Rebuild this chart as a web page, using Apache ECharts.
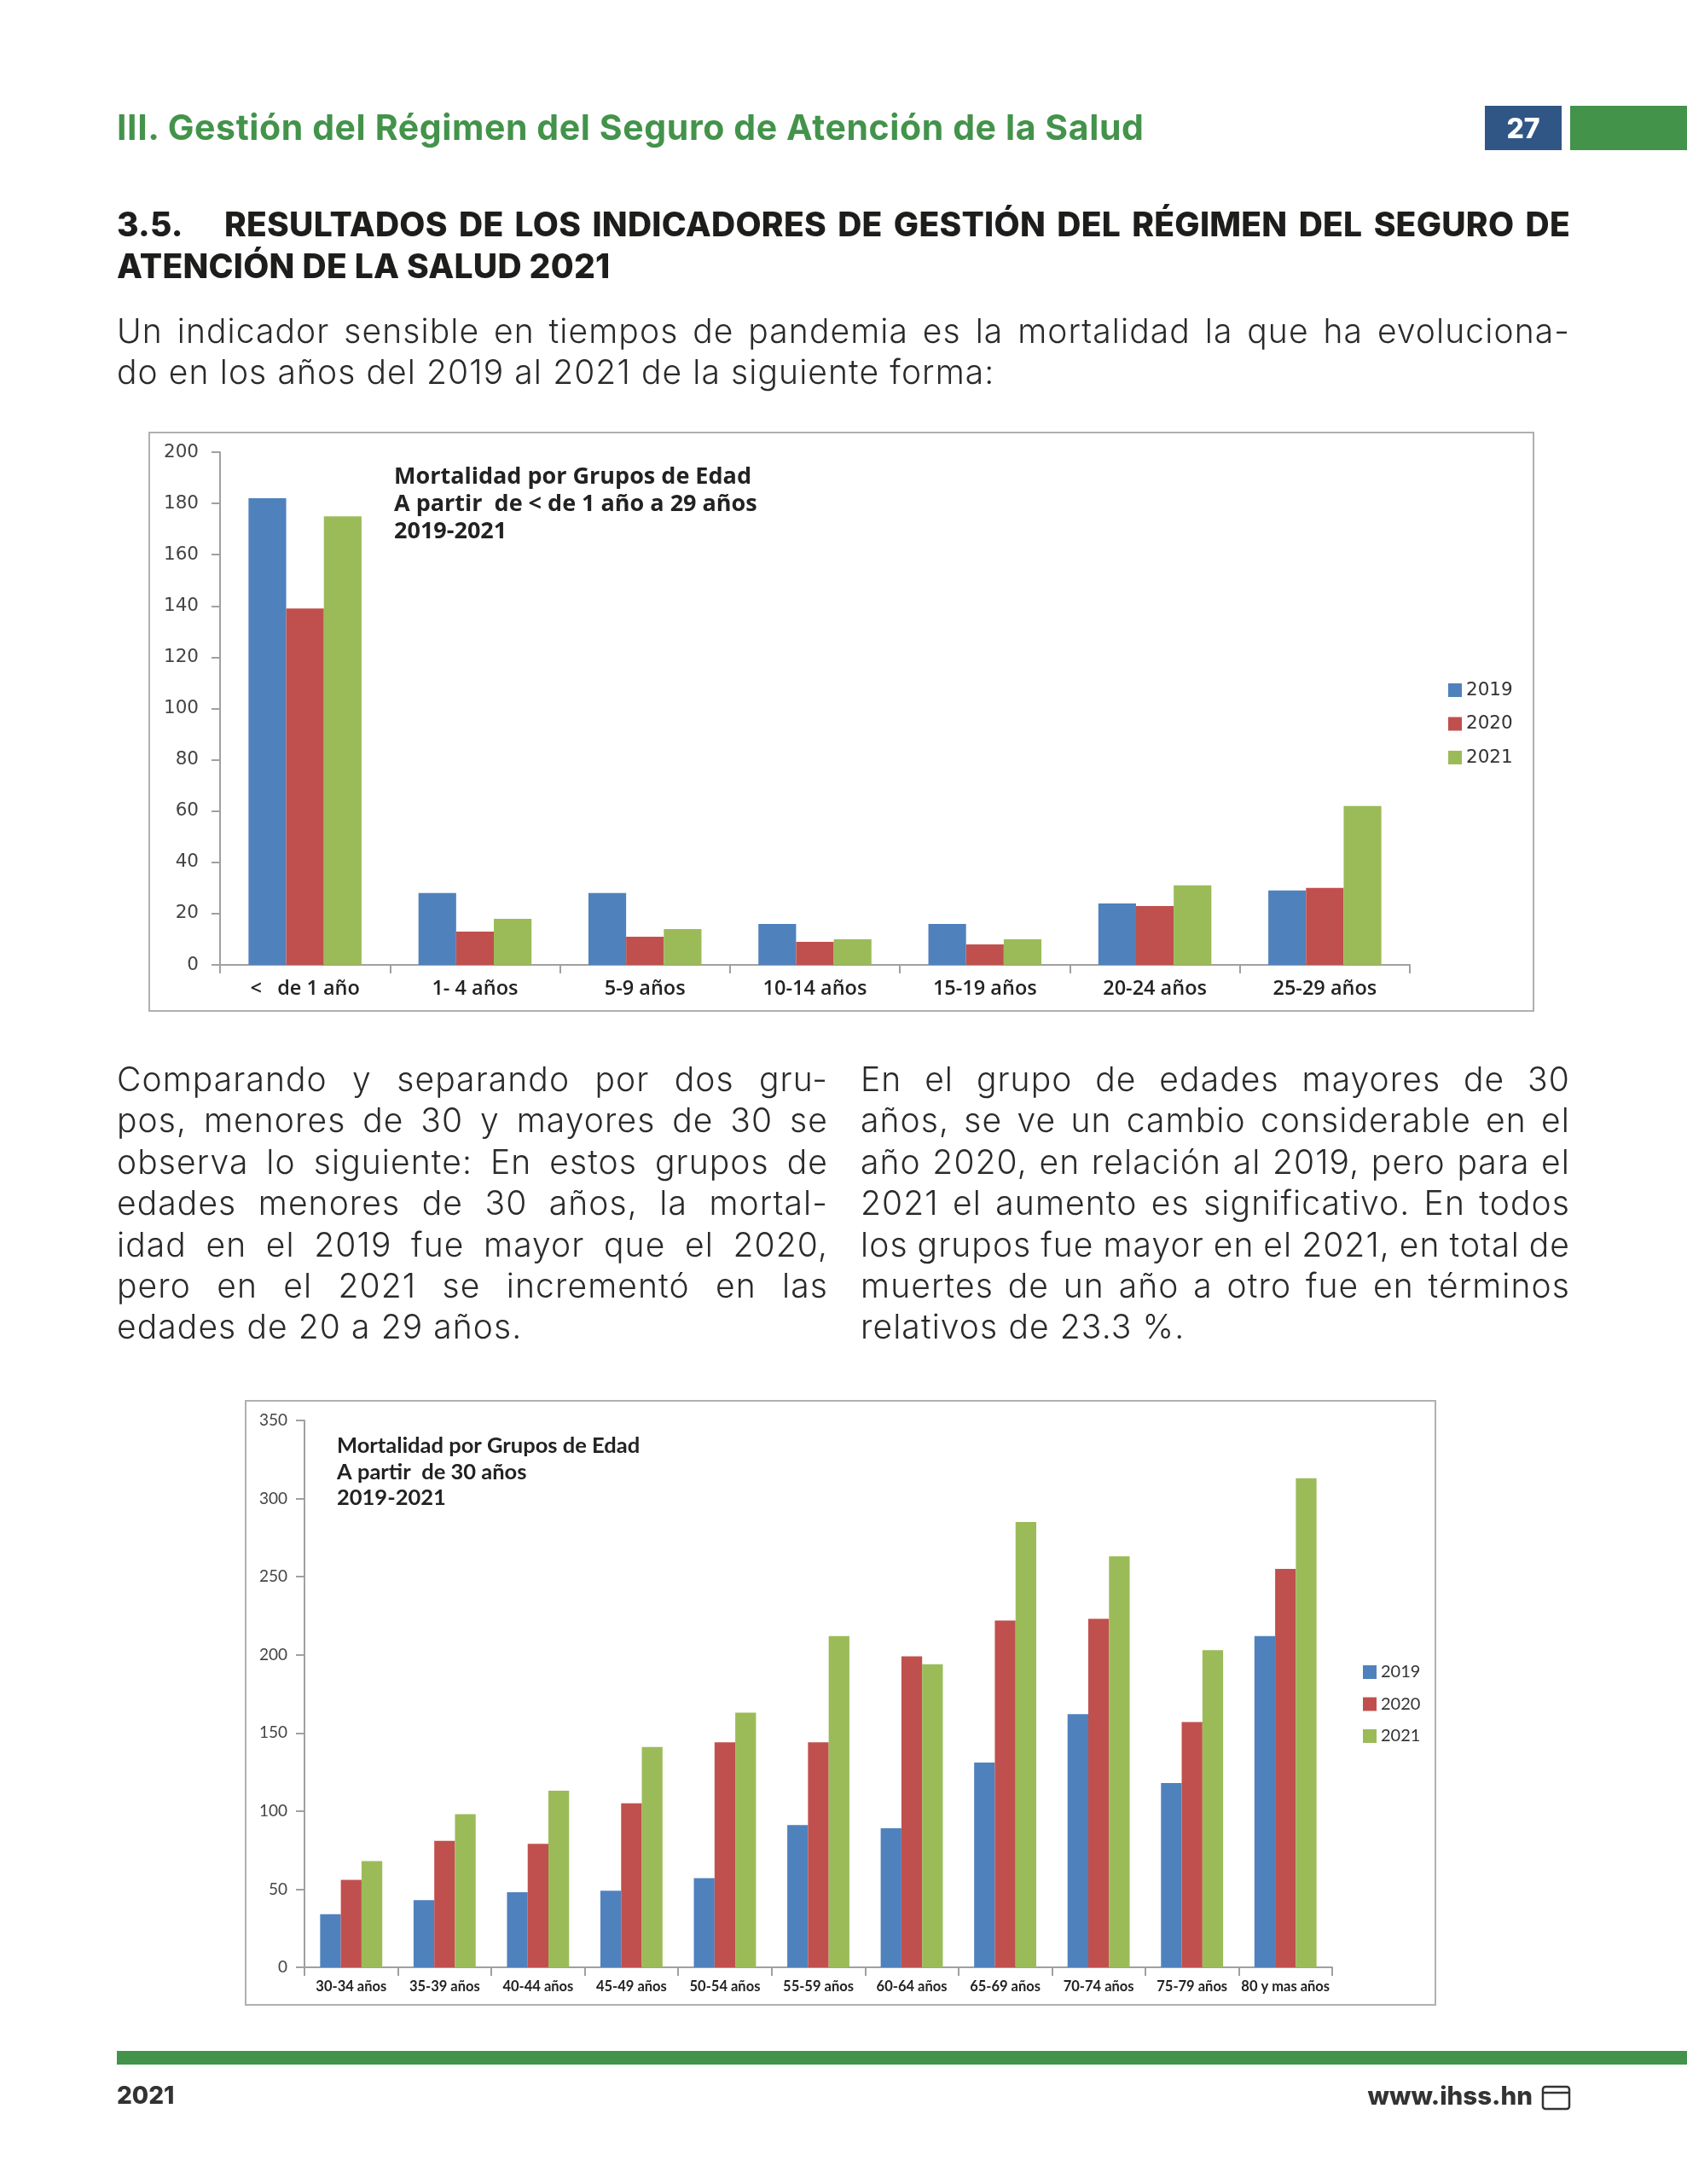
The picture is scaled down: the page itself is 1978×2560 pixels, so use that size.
<!DOCTYPE html>
<html><head><meta charset="utf-8">
<style>
html,body{margin:0;padding:0;background:#fff;width:1978px;height:2560px;overflow:hidden}
#c{position:absolute;left:0;top:0;width:1978px;height:2560px}
.t{position:absolute;white-space:nowrap;font-family:Inter,sans-serif}
.l{white-space:nowrap;text-align:justify;text-align-last:justify}
.e{text-align-last:left}
.b{position:absolute;font-family:Inter,sans-serif;font-weight:300;font-size:39px;line-height:48.4px;color:#2a2a2a;letter-spacing:1.1px}
.box{position:absolute}
</style></head><body>
<div id="c"></div>
<script src="https://cdn.jsdelivr.net/npm/echarts@6/dist/echarts.min.js"></script>
<script>
const years = ['2019','2020','2021'];
const colors = ['#4F81BD','#C0504D','#9BBB59'];
const catsYoung = ['<   de 1 año','1- 4 años','5-9 años','10-14 años','15-19 años','20-24 años','25-29 años'];
const young2019 = [182,28,28,16,16,24,29];
const young2020 = [139,13,11,9,8,23,30];
const young2021 = [175,18,14,10,10,31,62];
const catsOld = ['30-34 años','35-39 años','40-44 años','45-49 años','50-54 años','55-59 años','60-64 años','65-69 años','70-74 años','75-79 años','80 y mas años'];
const old2019 = [34,43,48,49,57,91,89,131,162,118,212];
const old2020 = [56,81,79,105,144,144,199,222,223,157,255];
const old2021 = [68,98,113,141,163,212,194,285,263,203,313];
const titleYoung = 'Mortalidad por Grupos de Edad\nA partir  de < de 1 año a 29 años\n2019-2021';
const titleOld = 'Mortalidad por Grupos de Edad\nA partir  de 30 años\n2019-2021';
const pageHeader = 'III. Gestión del Régimen del Seguro de Atención de la Salud';
const pageNumber = '27';
const heading = ['3.5.','RESULTADOS DE LOS INDICADORES DE GESTIÓN DEL RÉGIMEN DEL SEGURO DE','ATENCIÓN DE LA SALUD 2021'];
const intro = ['Un indicador sensible en tiempos de pandemia es la mortalidad la que ha evoluciona-','do en los años del 2019 al 2021 de la siguiente forma:'];
const leftCol = ['Comparando y separando por dos gru-','pos, menores de 30 y mayores de 30 se','observa lo siguiente: En estos grupos de','edades menores de 30 años, la mortal-','idad en el 2019 fue mayor que el 2020,','pero en el 2021 se incrementó en las','edades de 20 a 29 años.'];
const rightCol = ['En el grupo de edades mayores de 30','años, se ve un cambio considerable en el','año 2020, en relación al 2019, pero para el','2021 el aumento es significativo. En todos','los grupos fue mayor en el 2021, en total de','muertes de un año a otro fue en términos','relativos de 23.3 %.'];

function add(cls,style,text){const d=document.createElement('div');d.className=cls;d.style.cssText=style;d.textContent=text||'';document.body.appendChild(d);return d;}
function para(lines,left,top,width){
  const p=add('b',`left:${left}px;top:${top}px;width:${width}px`);
  lines.forEach((s,i)=>{
    const d=document.createElement('div');d.className='l'+(i===lines.length-1?' e':'');d.textContent=s;p.appendChild(d);
    const over=d.scrollWidth-d.clientWidth;
    if(over>0){d.style.wordSpacing=(-(over+1)/(s.split(' ').length-1))+'px';}
  });
}
add('t','left:137px;top:124px;font-size:41px;line-height:50px;font-weight:700;color:#43934B;letter-spacing:.6px',pageHeader);
add('box','left:1741px;top:124px;width:90px;height:52px;background:#2F5685');
add('box','left:1841px;top:124px;width:137px;height:52px;background:#43934B');
add('t','left:1741px;top:125px;width:90px;text-align:center;font-size:32px;line-height:52px;font-weight:800;color:#fff',pageNumber);
const hs='font-size:39px;line-height:48px;font-weight:800;color:#1d1d1b;letter-spacing:.25px';
add('t','left:137px;top:239px;'+hs,heading[0]);
add('t','left:263px;top:239px;width:1578px;text-align-last:justify;'+hs,heading[1]);
add('t','left:137px;top:288px;'+hs,heading[2]);
para(intro,137,364,1704);
para(leftCol,137,1241,834);
para(rightCol,1009,1241,832);
add('box','left:137px;top:2404px;width:1841px;height:16px;background:#43934B');
add('t','left:137px;top:2436px;font-size:28px;line-height:40px;font-weight:800;color:#333',`2021`);
add('t','left:1497px;top:2436px;width:300px;text-align:right;font-size:29.5px;line-height:40px;font-weight:800;color:#333','www.ihss.hn');

const chart = echarts.init(document.getElementById('c'));
const AX = '#a0a0a0';
function xAxis(i,cats,font,size,margin,weight){return {gridIndex:i,type:'category',data:cats,
  axisLine:{show:true,lineStyle:{color:AX,width:2}},axisTick:{show:true,length:10,alignWithLabel:false,lineStyle:{color:AX,width:2}},
  axisLabel:{interval:0,margin,fontFamily:font,fontSize:size,fontWeight:weight,color:'#222'},splitLine:{show:false}};}
function yAxis(i,max,step,font,size,margin){return {gridIndex:i,type:'value',min:0,max,interval:step,
  axisLine:{show:true,lineStyle:{color:AX,width:2}},axisTick:{show:true,length:10,lineStyle:{color:AX,width:2}},
  axisLabel:{margin,fontFamily:font,fontSize:size,color:'#444'},splitLine:{show:false}};}
function bars(i,data){return data.map((d,k)=>({name:years[k],type:'bar',xAxisIndex:i,yAxisIndex:i,data:d,barGap:0,barCategoryGap:'33.5%',itemStyle:{color:colors[k]},silent:true}));}
function legend(left,top,font,size,gap){return {orient:'vertical',left,top,data:years,icon:'rect',itemWidth:16,itemHeight:16,itemGap:gap,selectedMode:false,
  textStyle:{fontFamily:font,fontSize:size,color:'#333'}};}
chart.setOption({
  animation:false,
  color:colors,
  grid:[{left:258,top:530,width:1395,height:601,containLabel:false},{left:357,top:1665,width:1205,height:641,containLabel:false}],
  xAxis:[xAxis(0,catsYoung,'Open Sans',23.5,16,600),xAxis(1,catsOld,'Lato',16.5,14,700)],
  yAxis:[yAxis(0,200,20,'DejaVu Sans',21.5,25),yAxis(1,350,50,'Lato',19,20)],
  title:[
    {text:titleYoung,left:457,top:538,textStyle:{fontFamily:'Open Sans',fontSize:27,fontWeight:700,color:'#222',lineHeight:32}},
    {text:titleOld,left:390,top:1675,textStyle:{fontFamily:'Lato',fontSize:25.5,fontWeight:700,color:'#222',lineHeight:30.5}}
  ],
  legend:[legend(1693,793,'DejaVu Sans',21.5,17.5),legend(1593,1945,'Lato',20,17.5)],
  series:[...bars(0,[young2019,young2020,young2021]),...bars(1,[old2019,old2020,old2021])],
  graphic:[
    {type:'rect',silent:true,z:-1,shape:{x:175,y:507,width:1623,height:678},style:{fill:'#fff',stroke:'#b0b0b0',lineWidth:2}},
    {type:'rect',silent:true,z:-1,shape:{x:288,y:1642,width:1395,height:708},style:{fill:'#fff',stroke:'#b0b0b0',lineWidth:2}},
    {type:'rect',silent:true,shape:{x:1809,y:2446,width:31,height:26,r:3},style:{fill:'#fff',stroke:'#333',lineWidth:2.5}},
    {type:'line',silent:true,shape:{x1:1809,y1:2453,x2:1840,y2:2453},style:{stroke:'#333',lineWidth:2.5}}
  ]
});
</script></body></html>
